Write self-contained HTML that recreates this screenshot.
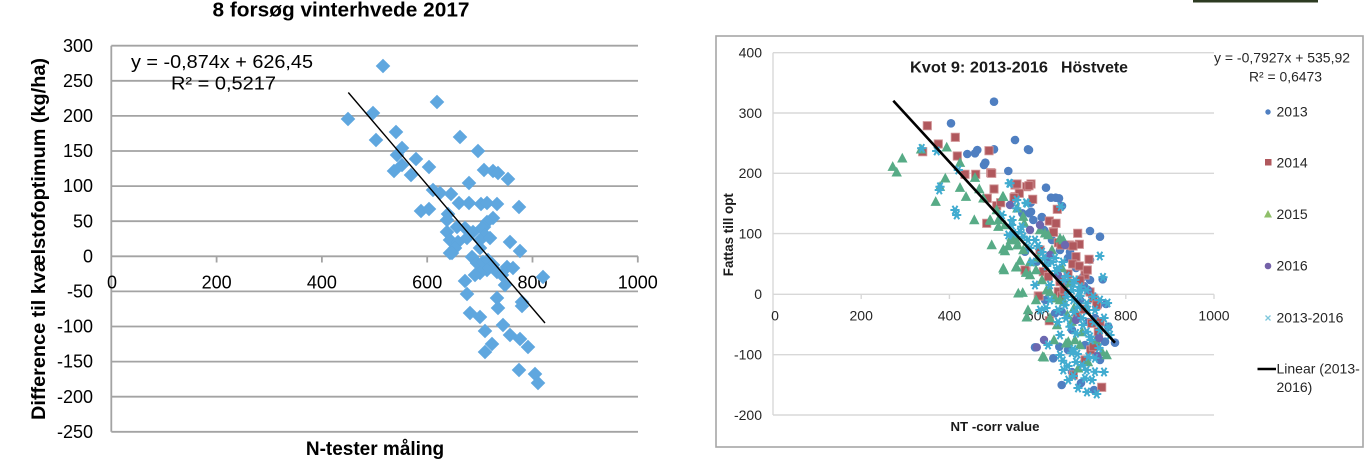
<!DOCTYPE html>
<html>
<head>
<meta charset="utf-8">
<style>
html,body{margin:0;padding:0;background:#fff;}
body{width:1372px;height:459px;overflow:hidden;}
svg{display:block;}
</style>
</head>
<body>
<svg width="1372" height="459" viewBox="0 0 1372 459" xmlns="http://www.w3.org/2000/svg" font-family="'Liberation Sans', Arial, sans-serif">
<defs>
<path id="d" d="M0,-7.3L7.3,0L0,7.3L-7.3,0Z" fill="#5fa7df"/>
<circle id="b" r="4.3" fill="#4f7fc1"/>
<rect id="r" x="-4.1" y="-4.1" width="8.2" height="8.2" fill="#b0585d" stroke="#cf8f92" stroke-width="0.9"/>
<path id="g" d="M0,-5.6L5.2,4.2L-5.2,4.2Z" fill="#57ab86"/>
<circle id="p" r="4.2" fill="#6c68b0"/>
<g id="c"><path d="M-4.6,0H4.6M-2.5,-4.2L2.5,4.2M2.5,-4.2L-2.5,4.2" stroke="#42acd0" stroke-width="2"/><circle r="2.4" fill="#42acd0"/></g>
</defs>

<rect x="0" y="0" width="1372" height="459" fill="#fff"/>
<rect x="1193" y="0" width="125" height="2.5" fill="#2d3b22"/>

<!-- ================= LEFT CHART ================= -->
<text x="341" y="16.5" text-anchor="middle" font-weight="bold" font-size="20" textLength="257" lengthAdjust="spacingAndGlyphs">8 forsøg vinterhvede 2017</text>

<g stroke="#a3a3a3" stroke-width="1.8" fill="none">
<line x1="111.3" y1="45.7" x2="638" y2="45.7"/>
<line x1="111.3" y1="80.8" x2="638" y2="80.8"/>
<line x1="111.3" y1="115.9" x2="638" y2="115.9"/>
<line x1="111.3" y1="151" x2="638" y2="151"/>
<line x1="111.3" y1="186.1" x2="638" y2="186.1"/>
<line x1="111.3" y1="221.2" x2="638" y2="221.2"/>
<line x1="111.3" y1="256.3" x2="638" y2="256.3"/>
<line x1="111.3" y1="291.4" x2="638" y2="291.4"/>
<line x1="111.3" y1="326.5" x2="638" y2="326.5"/>
<line x1="111.3" y1="361.6" x2="638" y2="361.6"/>
<line x1="111.3" y1="396.7" x2="638" y2="396.7"/>
<line x1="111.3" y1="431.8" x2="638" y2="431.8"/>
<line x1="111.3" y1="45.7" x2="111.3" y2="431.8"/>
<line x1="216.6" y1="256.3" x2="216.6" y2="262.5"/>
<line x1="321.9" y1="256.3" x2="321.9" y2="262.5"/>
<line x1="427.2" y1="256.3" x2="427.2" y2="262.5"/>
<line x1="532.5" y1="256.3" x2="532.5" y2="262.5"/>
<line x1="637.8" y1="256.3" x2="637.8" y2="262.5"/>
</g>

<g font-size="18" fill="#000" text-anchor="end">
<text x="93" y="51.8">300</text>
<text x="93" y="86.9">250</text>
<text x="93" y="122">200</text>
<text x="93" y="157.1">150</text>
<text x="93" y="192.2">100</text>
<text x="93" y="227.3">50</text>
<text x="93" y="262.4">0</text>
<text x="93" y="297.5">-50</text>
<text x="93" y="332.6">-100</text>
<text x="93" y="367.7">-150</text>
<text x="93" y="402.8">-200</text>
<text x="93" y="437.9">-250</text>
</g>

<g font-size="18" fill="#000" text-anchor="middle">
<text x="112" y="288.3">0</text>
<text x="216.6" y="288.3">200</text>
<text x="321.9" y="288.3">400</text>
<text x="427.2" y="288.3">600</text>
<text x="532.5" y="288.3">800</text>
<text x="637.8" y="288.3">1000</text>
</g>

<text transform="translate(45,239) rotate(-90)" text-anchor="middle" font-weight="bold" font-size="19" textLength="362" lengthAdjust="spacingAndGlyphs">Difference til kvælstofoptimum (kg/ha)</text>
<text x="375" y="455" text-anchor="middle" font-weight="bold" font-size="19">N-tester måling</text>

<!-- left points -->
<g>
<use href="#d" x="383" y="66"/>
<use href="#d" x="437" y="102"/>
<use href="#d" x="348" y="119"/>
<use href="#d" x="373" y="113"/>
<use href="#d" x="396" y="132"/>
<use href="#d" x="376" y="140"/>
<use href="#d" x="460" y="137"/>
<use href="#d" x="402" y="148"/>
<use href="#d" x="478" y="151"/>
<use href="#d" x="397" y="155"/>
<use href="#d" x="416" y="159"/>
<use href="#d" x="402" y="165"/>
<use href="#d" x="394" y="171"/>
<use href="#d" x="429" y="167"/>
<use href="#d" x="411" y="175"/>
<use href="#d" x="484" y="170"/>
<use href="#d" x="493" y="171"/>
<use href="#d" x="498" y="173"/>
<use href="#d" x="508" y="179"/>
<use href="#d" x="469" y="183"/>
<use href="#d" x="433" y="190"/>
<use href="#d" x="440" y="193"/>
<use href="#d" x="451" y="194"/>
<use href="#d" x="459" y="203"/>
<use href="#d" x="469" y="203"/>
<use href="#d" x="481" y="204"/>
<use href="#d" x="487" y="203"/>
<use href="#d" x="497" y="204"/>
<use href="#d" x="519" y="207"/>
<use href="#d" x="421" y="211"/>
<use href="#d" x="429" y="209"/>
<use href="#d" x="448" y="214"/>
<use href="#d" x="447" y="220"/>
<use href="#d" x="493" y="218"/>
<use href="#d" x="487" y="222"/>
<use href="#d" x="484" y="227"/>
<use href="#d" x="447" y="232"/>
<use href="#d" x="457" y="227"/>
<use href="#d" x="465" y="228"/>
<use href="#d" x="473" y="232"/>
<use href="#d" x="482" y="228"/>
<use href="#d" x="485" y="235"/>
<use href="#d" x="450" y="240"/>
<use href="#d" x="458" y="242"/>
<use href="#d" x="467" y="238"/>
<use href="#d" x="480" y="240"/>
<use href="#d" x="490" y="238"/>
<use href="#d" x="455" y="248"/>
<use href="#d" x="450" y="253"/>
<use href="#d" x="480" y="248"/>
<use href="#d" x="510" y="242"/>
<use href="#d" x="520" y="251"/>
<use href="#d" x="472" y="257"/>
<use href="#d" x="477" y="263"/>
<use href="#d" x="483" y="262"/>
<use href="#d" x="488" y="260"/>
<use href="#d" x="493" y="265"/>
<use href="#d" x="487" y="270"/>
<use href="#d" x="497" y="272"/>
<use href="#d" x="502" y="275"/>
<use href="#d" x="480" y="273"/>
<use href="#d" x="475" y="275"/>
<use href="#d" x="507" y="267"/>
<use href="#d" x="513" y="268"/>
<use href="#d" x="465" y="281"/>
<use href="#d" x="467" y="294"/>
<use href="#d" x="497" y="298"/>
<use href="#d" x="522" y="302"/>
<use href="#d" x="543" y="277"/>
<use href="#d" x="505" y="285"/>
<use href="#d" x="498" y="308"/>
<use href="#d" x="522" y="306"/>
<use href="#d" x="470" y="313"/>
<use href="#d" x="480" y="317"/>
<use href="#d" x="503" y="325"/>
<use href="#d" x="485" y="331"/>
<use href="#d" x="510" y="335"/>
<use href="#d" x="520" y="339"/>
<use href="#d" x="528" y="347"/>
<use href="#d" x="492" y="344"/>
<use href="#d" x="485" y="352"/>
<use href="#d" x="519" y="370"/>
<use href="#d" x="535" y="374"/>
<use href="#d" x="538" y="383"/>
<use href="#d" x="452" y="253"/>
</g>
<line x1="348.3" y1="92.5" x2="545" y2="323" stroke="#000" stroke-width="1.4"/>

<text x="131" y="68" font-size="18" textLength="182" lengthAdjust="spacingAndGlyphs">y = -0,874x + 626,45</text>
<text x="171" y="89.5" font-size="18" textLength="105" lengthAdjust="spacingAndGlyphs">R² = 0,5217</text>

<!-- ================= RIGHT CHART ================= -->
<rect x="716" y="36" width="647" height="411" fill="none" stroke="#a6a6a6" stroke-width="1.6"/>

<g stroke="#d8d8d8" stroke-width="1.4" fill="none">
<line x1="773" y1="52.7" x2="1214" y2="52.7"/>
<line x1="773" y1="113" x2="1214" y2="113"/>
<line x1="773" y1="173.3" x2="1214" y2="173.3"/>
<line x1="773" y1="233.6" x2="1214" y2="233.6"/>
<line x1="773" y1="294.3" x2="1214" y2="294.3"/>
<line x1="773" y1="354.7" x2="1214" y2="354.7"/>
<line x1="773" y1="415" x2="1214" y2="415"/>
<line x1="773" y1="52.7" x2="773" y2="415"/>
<line x1="861.2" y1="294.3" x2="861.2" y2="299"/>
<line x1="949.4" y1="294.3" x2="949.4" y2="299"/>
<line x1="1037.6" y1="294.3" x2="1037.6" y2="299"/>
<line x1="1125.8" y1="294.3" x2="1125.8" y2="299"/>
<line x1="1214" y1="294.3" x2="1214" y2="299"/>
</g>

<g font-size="14" fill="#262626" text-anchor="end">
<text x="762" y="57.6">400</text>
<text x="762" y="117.9">300</text>
<text x="762" y="178.2">200</text>
<text x="762" y="238.5">100</text>
<text x="762" y="299.2">0</text>
<text x="762" y="359.6">-100</text>
<text x="762" y="419.9">-200</text>
</g>
<g font-size="14" fill="#262626" text-anchor="middle">
<text x="775" y="320.5">0</text>
<text x="861.2" y="320.5">200</text>
<text x="949.4" y="320.5">400</text>
<text x="1037.6" y="320.5">600</text>
<text x="1125.8" y="320.5">800</text>
<text x="1214" y="320.5">1000</text>
</g>

<text x="910" y="72.5" font-size="16" font-weight="bold" fill="#1a1a1a" textLength="138" lengthAdjust="spacingAndGlyphs">Kvot 9: 2013-2016</text>
<text x="1061" y="72.5" font-size="16" font-weight="bold" fill="#1a1a1a" textLength="67" lengthAdjust="spacingAndGlyphs">Höstvete</text>

<text transform="translate(733,234.7) rotate(-90)" text-anchor="middle" font-weight="bold" font-size="13.5" fill="#1a1a1a" textLength="83" lengthAdjust="spacingAndGlyphs">Fattas till opt</text>
<text x="995" y="431" text-anchor="middle" font-weight="bold" font-size="13.2" fill="#1a1a1a" textLength="89" lengthAdjust="spacingAndGlyphs">NT -corr value</text>

<text x="1214" y="62.5" font-size="14" fill="#262626" textLength="136" lengthAdjust="spacingAndGlyphs">y = -0,7927x + 535,92</text>
<text x="1249" y="81.5" font-size="14" fill="#262626" textLength="73" lengthAdjust="spacingAndGlyphs">R² = 0,6473</text>

<!-- 2013 blue -->
<g>
<use href="#b" x="994" y="101.7"/>
<use href="#b" x="951" y="123.3"/>
<use href="#b" x="1015" y="140"/>
<use href="#b" x="1029" y="150"/>
<use href="#b" x="967.3" y="154"/>
<use href="#b" x="975" y="153.3"/>
<use href="#b" x="977.3" y="150"/>
<use href="#b" x="994" y="149.3"/>
<use href="#b" x="1028" y="149.3"/>
<use href="#b" x="985.3" y="162.7"/>
<use href="#b" x="984" y="165"/>
<use href="#b" x="1008.3" y="171"/>
<use href="#b" x="1046" y="187.7"/>
<use href="#b" x="1051" y="197.7"/>
<use href="#b" x="1055.7" y="197.7"/>
<use href="#b" x="1059" y="198.3"/>
<use href="#b" x="1030.7" y="202.7"/>
<use href="#b" x="1022.3" y="213.3"/>
<use href="#b" x="1029.3" y="213.3"/>
<use href="#b" x="1033.3" y="220"/>
<use href="#b" x="1041.7" y="217.3"/>
<use href="#b" x="1090" y="231"/>
<use href="#b" x="1100" y="236.7"/>
<use href="#b" x="1036.7" y="261.7"/>
<use href="#b" x="1083.3" y="276.7"/>
<use href="#b" x="1090" y="280"/>
<use href="#b" x="1102.7" y="279.3"/>
<use href="#b" x="1055" y="313.3"/>
<use href="#b" x="1061.7" y="311.7"/>
<use href="#b" x="1106" y="304"/>
<use href="#b" x="1108.3" y="326.7"/>
<use href="#b" x="1115" y="342.7"/>
<use href="#b" x="1105" y="341.7"/>
<use href="#b" x="1035" y="347.3"/>
<use href="#b" x="1053.3" y="358.3"/>
<use href="#b" x="1059.3" y="346.7"/>
<use href="#b" x="1100" y="360"/>
<use href="#b" x="1061.7" y="385"/>
<use href="#b" x="1025" y="251.7"/>
<use href="#b" x="1062" y="206"/>
<use href="#b" x="1048" y="262"/>
<use href="#b" x="1070" y="252"/>
<use href="#b" x="1080" y="300"/>
<use href="#b" x="1095" y="318"/>
<use href="#b" x="1072" y="330"/>
<use href="#b" x="1068" y="350"/>
<use href="#b" x="1085" y="345"/>
<use href="#b" x="1045" y="300"/>
<use href="#b" x="1090" y="260"/>
<use href="#b" x="1031" y="211.7"/>
<use href="#b" x="1041.9" y="217"/>
<use href="#b" x="1044" y="230"/>
<use href="#b" x="1052" y="240"/>
<use href="#b" x="1060" y="250"/>
<use href="#b" x="1068" y="258"/>
<use href="#b" x="1076" y="268"/>
<use href="#b" x="1084" y="286"/>
<use href="#b" x="1092" y="296"/>
<use href="#b" x="1098" y="306"/>
<use href="#b" x="1066" y="284"/>
<use href="#b" x="1088" y="322"/>
<use href="#b" x="1072" y="372"/>
<use href="#b" x="1081" y="383"/>
<use href="#b" x="1094" y="390"/>
</g>
<!-- 2014 red -->
<g>
<use href="#r" x="927.3" y="125.7"/>
<use href="#r" x="955.3" y="137.3"/>
<use href="#r" x="938.3" y="144"/>
<use href="#r" x="922.7" y="151.7"/>
<use href="#r" x="989" y="150.7"/>
<use href="#r" x="957.3" y="156"/>
<use href="#r" x="965" y="174.3"/>
<use href="#r" x="975.7" y="174.3"/>
<use href="#r" x="990.7" y="172.7"/>
<use href="#r" x="1015" y="185"/>
<use href="#r" x="1026.7" y="186.7"/>
<use href="#r" x="994" y="189"/>
<use href="#r" x="987.3" y="198.3"/>
<use href="#r" x="1015" y="196.7"/>
<use href="#r" x="1019.3" y="193.3"/>
<use href="#r" x="996.7" y="205.7"/>
<use href="#r" x="1000.7" y="202.7"/>
<use href="#r" x="986.7" y="223.3"/>
<use href="#r" x="1026" y="271.7"/>
<use href="#r" x="991.7" y="173.3"/>
<use href="#r" x="1014" y="197.7"/>
<use href="#r" x="1032.7" y="199.3"/>
<use href="#r" x="1057.3" y="209.3"/>
<use href="#r" x="1049.3" y="221"/>
<use href="#r" x="1056" y="223.3"/>
<use href="#r" x="1077.7" y="233.3"/>
<use href="#r" x="1053.3" y="231.7"/>
<use href="#r" x="1058.3" y="242.7"/>
<use href="#r" x="1069.3" y="245"/>
<use href="#r" x="1079.3" y="244.3"/>
<use href="#r" x="1076" y="256.7"/>
<use href="#r" x="1089" y="259.3"/>
<use href="#r" x="1072.7" y="264"/>
<use href="#r" x="1079.3" y="266"/>
<use href="#r" x="1085" y="275"/>
<use href="#r" x="1087.3" y="270"/>
<use href="#r" x="1025" y="270"/>
<use href="#r" x="1043.3" y="271.7"/>
<use href="#r" x="1048.3" y="276.7"/>
<use href="#r" x="1060" y="281.7"/>
<use href="#r" x="1093.3" y="298.3"/>
<use href="#r" x="1096.7" y="305"/>
<use href="#r" x="1038.3" y="296"/>
<use href="#r" x="1058.3" y="291.7"/>
<use href="#r" x="1061.7" y="296"/>
<use href="#r" x="1049.3" y="320.7"/>
<use href="#r" x="1077.3" y="316"/>
<use href="#r" x="1084" y="309.3"/>
<use href="#r" x="1091.7" y="323.3"/>
<use href="#r" x="1098.3" y="331.7"/>
<use href="#r" x="1096" y="343.3"/>
<use href="#r" x="1090.7" y="350"/>
<use href="#r" x="1093.3" y="346.7"/>
<use href="#r" x="1073.3" y="375"/>
<use href="#r" x="1101.7" y="387.3"/>
<use href="#r" x="1031" y="184"/>
<use href="#r" x="1053.5" y="232.3"/>
<use href="#r" x="1073" y="246"/>
<use href="#r" x="1061" y="245"/>
<use href="#r" x="1017" y="184"/>
<use href="#r" x="1029" y="185.7"/>
<use href="#r" x="1039" y="296"/>
<use href="#r" x="1068" y="274"/>
<use href="#r" x="1080" y="280"/>
<use href="#r" x="1090" y="292"/>
<use href="#r" x="1100" y="322"/>
<use href="#r" x="1085" y="360"/>
<use href="#r" x="1064" y="290"/>
<use href="#r" x="1040" y="250"/>
</g>
<!-- 2015 green -->
<g>
<use href="#g" x="892.7" y="166.7"/>
<use href="#g" x="896.7" y="172.3"/>
<use href="#g" x="902.3" y="158.3"/>
<use href="#g" x="921" y="149.3"/>
<use href="#g" x="946.7" y="147.3"/>
<use href="#g" x="960" y="162.7"/>
<use href="#g" x="975" y="177.7"/>
<use href="#g" x="945.3" y="178.3"/>
<use href="#g" x="940" y="186.7"/>
<use href="#g" x="960" y="187.7"/>
<use href="#g" x="966" y="196.7"/>
<use href="#g" x="983.3" y="198.3"/>
<use href="#g" x="1002.7" y="196.7"/>
<use href="#g" x="935.7" y="201.7"/>
<use href="#g" x="974.3" y="220"/>
<use href="#g" x="990.7" y="220.7"/>
<use href="#g" x="998.3" y="220"/>
<use href="#g" x="998.3" y="226.7"/>
<use href="#g" x="1011.7" y="236.7"/>
<use href="#g" x="1016" y="240"/>
<use href="#g" x="991.7" y="245"/>
<use href="#g" x="1008.3" y="246"/>
<use href="#g" x="1017.7" y="245"/>
<use href="#g" x="1005" y="251"/>
<use href="#g" x="1020" y="260.7"/>
<use href="#g" x="1016" y="267.3"/>
<use href="#g" x="1004" y="270"/>
<use href="#g" x="979.3" y="189"/>
<use href="#g" x="1003.3" y="196.7"/>
<use href="#g" x="996.7" y="210"/>
<use href="#g" x="990" y="220"/>
<use href="#g" x="1005" y="225"/>
<use href="#g" x="1017.3" y="208.3"/>
<use href="#g" x="1023.3" y="216.7"/>
<use href="#g" x="1024.3" y="223.3"/>
<use href="#g" x="1048.3" y="235"/>
<use href="#g" x="1060" y="238.3"/>
<use href="#g" x="1063.3" y="240"/>
<use href="#g" x="1003.3" y="249.3"/>
<use href="#g" x="1010.7" y="240"/>
<use href="#g" x="1017.3" y="245"/>
<use href="#g" x="1023.3" y="250"/>
<use href="#g" x="1003.3" y="268.3"/>
<use href="#g" x="1016.7" y="267.3"/>
<use href="#g" x="1026" y="272.7"/>
<use href="#g" x="1030" y="275"/>
<use href="#g" x="1018.3" y="293.3"/>
<use href="#g" x="1022.7" y="292.7"/>
<use href="#g" x="1046.7" y="290"/>
<use href="#g" x="1055" y="298.3"/>
<use href="#g" x="1060" y="300"/>
<use href="#g" x="1026.7" y="317.3"/>
<use href="#g" x="1067.3" y="315"/>
<use href="#g" x="1071.7" y="321.7"/>
<use href="#g" x="1066" y="343.3"/>
<use href="#g" x="1068.3" y="341.7"/>
<use href="#g" x="1042.7" y="356.7"/>
<use href="#g" x="1106.7" y="355"/>
<use href="#g" x="1078.3" y="368.3"/>
<use href="#g" x="1040" y="230"/>
<use href="#g" x="1045" y="233.3"/>
<use href="#g" x="1052" y="250"/>
<use href="#g" x="1038" y="258"/>
<use href="#g" x="1062" y="268"/>
<use href="#g" x="1070" y="283"/>
<use href="#g" x="1082" y="332"/>
<use href="#g" x="1057" y="325"/>
<use href="#g" x="1075" y="340"/>
<use href="#g" x="1044" y="357.3"/>
<use href="#g" x="1030" y="262"/>
<use href="#g" x="1036" y="270"/>
<use href="#g" x="1042" y="280"/>
<use href="#g" x="1050" y="292"/>
<use href="#g" x="1064" y="302"/>
<use href="#g" x="1074" y="308"/>
<use href="#g" x="1080" y="345"/>
<use href="#g" x="1088" y="362"/>
<use href="#g" x="1096" y="340"/>
<use href="#g" x="1054" y="340"/>
<use href="#g" x="1102" y="352"/>
<use href="#g" x="1036" y="300"/>
<use href="#g" x="1028" y="310"/>
<use href="#g" x="1050" y="318"/>
</g>
<!-- 2016 purple -->
<g>
<use href="#p" x="1040" y="225"/>
<use href="#p" x="1058" y="275"/>
<use href="#p" x="1088" y="290"/>
<use href="#p" x="1065" y="245"/>
<use href="#p" x="1076" y="320"/>
<use href="#p" x="1099" y="338"/>
<use href="#p" x="1050" y="255"/>
<use href="#p" x="1010" y="205"/>
<use href="#p" x="1030" y="230"/>
<use href="#p" x="1097" y="356"/>
<use href="#p" x="1044" y="340"/>
<use href="#p" x="1036.8" y="347.3"/>
</g>
<!-- 2013-2016 cyan -->
<g>
<use href="#c" x="936.7" y="151"/>
<use href="#c" x="958.3" y="170"/>
<use href="#c" x="939.3" y="190"/>
<use href="#c" x="1010" y="183.3"/>
<use href="#c" x="1016.7" y="200"/>
<use href="#c" x="1026.7" y="203.3"/>
<use href="#c" x="1016.7" y="208.3"/>
<use href="#c" x="955" y="210"/>
<use href="#c" x="956.7" y="215"/>
<use href="#c" x="1011.7" y="225"/>
<use href="#c" x="1021.7" y="226.7"/>
<use href="#c" x="1023.3" y="236.7"/>
<use href="#c" x="1009.3" y="183.3"/>
<use href="#c" x="1026" y="202.7"/>
<use href="#c" x="1060.7" y="206.7"/>
<use href="#c" x="1008.3" y="235"/>
<use href="#c" x="1013.3" y="233.3"/>
<use href="#c" x="1035" y="240"/>
<use href="#c" x="1030" y="248"/>
<use href="#c" x="1042" y="252"/>
<use href="#c" x="1055" y="258"/>
<use href="#c" x="1063" y="262"/>
<use href="#c" x="1046.7" y="266"/>
<use href="#c" x="1056" y="271"/>
<use href="#c" x="1066.7" y="276"/>
<use href="#c" x="1075" y="280"/>
<use href="#c" x="1073.3" y="283.3"/>
<use href="#c" x="1080" y="286.7"/>
<use href="#c" x="1086.7" y="290"/>
<use href="#c" x="1093.3" y="296.7"/>
<use href="#c" x="1086.7" y="303.3"/>
<use href="#c" x="1066.7" y="296.7"/>
<use href="#c" x="1073.3" y="300"/>
<use href="#c" x="1078.3" y="306.7"/>
<use href="#c" x="1070" y="326.7"/>
<use href="#c" x="1076" y="333.3"/>
<use href="#c" x="1086.7" y="331.7"/>
<use href="#c" x="1090" y="336.7"/>
<use href="#c" x="1062.7" y="360.7"/>
<use href="#c" x="1071.7" y="352.7"/>
<use href="#c" x="1073.3" y="349.3"/>
<use href="#c" x="1077.3" y="354"/>
<use href="#c" x="1088.3" y="356.7"/>
<use href="#c" x="1095" y="358.3"/>
<use href="#c" x="1063.3" y="370"/>
<use href="#c" x="1068.3" y="380"/>
<use href="#c" x="1073.3" y="376"/>
<use href="#c" x="1085" y="378.3"/>
<use href="#c" x="1095" y="371.7"/>
<use href="#c" x="1086.7" y="370"/>
<use href="#c" x="1096.7" y="394"/>
<use href="#c" x="1099.8" y="256"/>
<use href="#c" x="1103" y="277.3"/>
<use href="#c" x="1107.5" y="303"/>
<use href="#c" x="1108.3" y="327"/>
<use href="#c" x="1050" y="285"/>
<use href="#c" x="1040" y="310"/>
<use href="#c" x="1065" y="305"/>
<use href="#c" x="1082" y="318"/>
<use href="#c" x="1060" y="335"/>
<use href="#c" x="1048" y="345"/>
<use href="#c" x="1095" y="310"/>
<use href="#c" x="1100" y="300"/>
<use href="#c" x="1035" y="285"/>
<use href="#c" x="1046" y="308"/>
<use href="#c" x="1058" y="322"/>
<use href="#c" x="1069" y="292"/>
<use href="#c" x="1079" y="291"/>
<use href="#c" x="1032" y="262"/>
<use href="#c" x="940" y="186.7"/>
<use href="#c" x="921.7" y="148.3"/>
<use href="#c" x="1002" y="215"/>
<use href="#c" x="1012" y="220"/>
<use href="#c" x="1020" y="232"/>
<use href="#c" x="1028" y="240"/>
<use href="#c" x="1038" y="246"/>
<use href="#c" x="1044" y="258"/>
<use href="#c" x="1052" y="262"/>
<use href="#c" x="1058" y="268"/>
<use href="#c" x="1064" y="280"/>
<use href="#c" x="1072" y="290"/>
<use href="#c" x="1080" y="296"/>
<use href="#c" x="1088" y="310"/>
<use href="#c" x="1094" y="322"/>
<use href="#c" x="1100" y="330"/>
<use href="#c" x="1104" y="318"/>
<use href="#c" x="1110" y="335"/>
<use href="#c" x="1050" y="300"/>
<use href="#c" x="1058" y="310"/>
<use href="#c" x="1066" y="318"/>
<use href="#c" x="1074" y="312"/>
<use href="#c" x="1083" y="325"/>
<use href="#c" x="1091" y="340"/>
<use href="#c" x="1099" y="348"/>
<use href="#c" x="1076" y="362"/>
<use href="#c" x="1082" y="365"/>
<use href="#c" x="1092" y="380"/>
<use href="#c" x="1068" y="366"/>
<use href="#c" x="1060" y="355"/>
<use href="#c" x="1104" y="372"/>
<use href="#c" x="1078" y="388"/>
<use href="#c" x="1087" y="392"/>
</g>

<line x1="893.3" y1="100.7" x2="1115" y2="342.7" stroke="#000" stroke-width="2.6"/>

<!-- legend -->
<circle cx="1268" cy="112" r="2.7" fill="#4f7fc1"/>
<text x="1276.5" y="116.7" font-size="14" fill="#262626">2013</text>
<rect x="1265" y="159" width="6.5" height="6.5" fill="#b0585d"/>
<text x="1276.5" y="167.7" font-size="14" fill="#262626">2014</text>
<path d="M1268,210L1272,217.5L1264,217.5Z" fill="#8fbf6a"/>
<text x="1276.5" y="219.2" font-size="14" fill="#262626">2015</text>
<circle cx="1268" cy="266" r="3.3" fill="#7461a8"/>
<text x="1276.5" y="270.7" font-size="14" fill="#262626">2016</text>
<path d="M1265.5,315.5L1270.5,320.5M1270.5,315.5L1265.5,320.5" stroke="#7fc7dc" stroke-width="1.3"/>
<text x="1276.5" y="322.7" font-size="14" fill="#262626">2013-2016</text>
<line x1="1257.5" y1="369" x2="1276" y2="369" stroke="#000" stroke-width="2.6"/>
<text x="1276.5" y="373.7" font-size="14" fill="#262626">Linear (2013-</text>
<text x="1276.5" y="392.2" font-size="14" fill="#262626">2016)</text>
</svg>
</body>
</html>
